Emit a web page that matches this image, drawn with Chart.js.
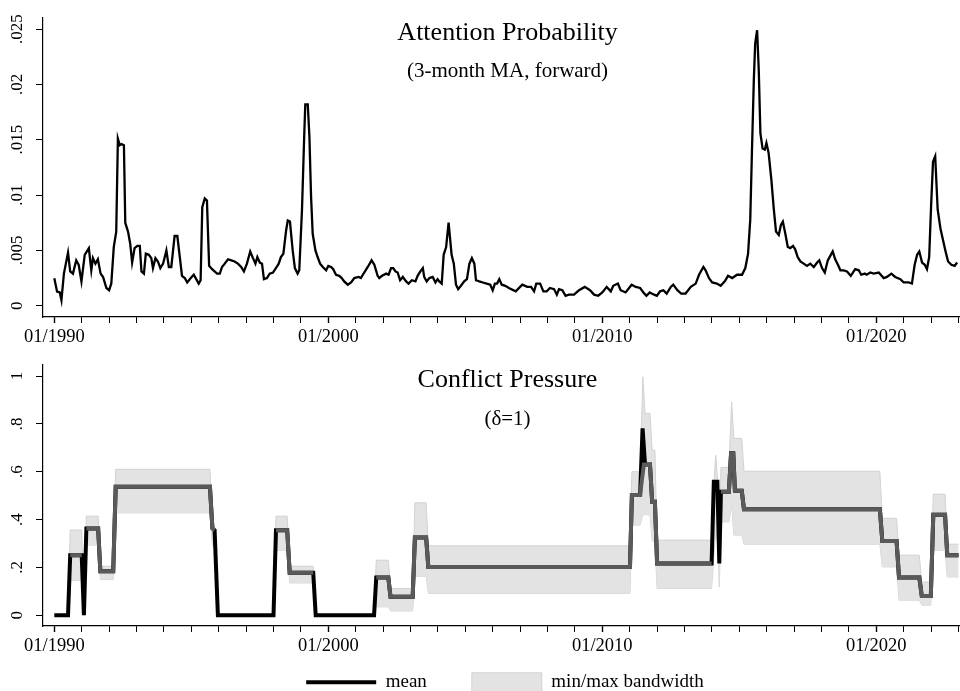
<!DOCTYPE html>
<html>
<head>
<meta charset="utf-8">
<script src="https://cdn.jsdelivr.net/npm/chart.js@4.4.1/dist/chart.umd.min.js"></script>
<style>
  html, body { margin: 0; padding: 0; background: #fff; }
  body { width: 960px; height: 691px; overflow: hidden; position: relative; }
  canvas { position: absolute; left: 0; }
  #attChart { top: 0; }
  #cpChart { top: 340px; }
</style>
</head>
<body>
<canvas id="attChart" width="1015" height="350"></canvas>
<canvas id="cpChart" width="1015" height="390"></canvas>
<script>
// Attention probability, 3-month MA (decimal year, value)
const attYear = [
  1990.00, 1990.10, 1990.20, 1990.26, 1990.35, 1990.50, 1990.58, 1990.68, 1990.80, 1990.89, 1990.99,
  1991.11, 1991.26, 1991.35, 1991.41, 1991.50, 1991.59, 1991.69, 1991.78, 1991.90, 1992.00, 1992.08,
  1992.17, 1992.26, 1992.32, 1992.39, 1992.45, 1992.54, 1992.59, 1992.69, 1992.77, 1992.84, 1992.93,
  1993.03, 1993.12, 1993.18, 1993.27, 1993.34, 1993.45, 1993.54, 1993.60, 1993.69, 1993.78, 1993.87,
  1993.97, 1994.09, 1994.18, 1994.27, 1994.39, 1994.49, 1994.58, 1994.66, 1994.76, 1994.85, 1994.98,
  1995.09, 1995.18, 1995.27, 1995.34, 1995.40, 1995.49, 1995.57, 1995.65, 1995.76, 1995.85, 1995.94,
  1996.04, 1996.12, 1996.22, 1996.34, 1996.46, 1996.58, 1996.70, 1996.82, 1996.92, 1997.03, 1997.15,
  1997.25, 1997.34, 1997.41, 1997.50, 1997.58, 1997.65, 1997.76, 1997.86, 1997.98, 1998.14, 1998.19,
  1998.27, 1998.36, 1998.46, 1998.52, 1998.60, 1998.70, 1998.78, 1998.88, 1998.94, 1999.04, 1999.12,
  1999.16, 1999.25, 1999.31, 1999.37, 1999.43, 1999.53, 1999.61, 1999.70, 1999.80, 1999.92, 2000.00,
  2000.10, 2000.18, 2000.28, 2000.40, 2000.49, 2000.58, 2000.71, 2000.83, 2000.95, 2001.11, 2001.19,
  2001.31, 2001.44, 2001.58, 2001.68, 2001.80, 2001.86, 2001.96, 2002.11, 2002.20, 2002.29, 2002.37,
  2002.45, 2002.53, 2002.62, 2002.72, 2002.84, 2002.93, 2003.05, 2003.18, 2003.26, 2003.36, 2003.45,
  2003.50, 2003.59, 2003.69, 2003.81, 2003.91, 2003.99, 2004.05, 2004.14, 2004.21, 2004.30, 2004.39,
  2004.50, 2004.58, 2004.66, 2004.74, 2004.84, 2004.96, 2005.06, 2005.15, 2005.24, 2005.33, 2005.39,
  2005.51, 2005.64, 2005.78, 2005.91, 2006.00, 2006.08, 2006.16, 2006.24, 2006.33, 2006.46, 2006.59,
  2006.84, 2007.08, 2007.26, 2007.40, 2007.51, 2007.59, 2007.73, 2007.85, 2007.97, 2008.09, 2008.24,
  2008.34, 2008.42, 2008.54, 2008.66, 2008.78, 2008.97, 2009.15, 2009.36, 2009.55, 2009.70, 2009.85,
  2010.00, 2010.16, 2010.31, 2010.40, 2010.57, 2010.67, 2010.85, 2011.07, 2011.22, 2011.38, 2011.50,
  2011.61, 2011.73, 2011.80, 2011.89, 2011.99, 2012.11, 2012.23, 2012.35, 2012.50, 2012.59, 2012.74,
  2012.88, 2013.04, 2013.23, 2013.41, 2013.53, 2013.69, 2013.77, 2013.89, 2014.01, 2014.18, 2014.32,
  2014.47, 2014.59, 2014.74, 2014.92, 2015.10, 2015.22, 2015.32, 2015.40, 2015.46, 2015.53, 2015.58,
  2015.65, 2015.71, 2015.77, 2015.85, 2015.93, 2015.99, 2016.07, 2016.17, 2016.26, 2016.34, 2016.44,
  2016.52, 2016.59, 2016.68, 2016.77, 2016.86, 2016.96, 2017.04, 2017.13, 2017.23, 2017.35, 2017.47,
  2017.59, 2017.72, 2017.84, 2017.92, 2018.02, 2018.12, 2018.23, 2018.32, 2018.41, 2018.50, 2018.60,
  2018.69, 2018.81, 2018.93, 2019.07, 2019.23, 2019.36, 2019.45, 2019.58, 2019.65, 2019.78, 2019.90,
  2020.09, 2020.27, 2020.39, 2020.55, 2020.69, 2020.88, 2021.00, 2021.18, 2021.30, 2021.40, 2021.49,
  2021.57, 2021.67, 2021.77, 2021.85, 2021.93, 2022.00, 2022.07, 2022.15, 2022.24, 2022.34, 2022.42,
  2022.52, 2022.62, 2022.74, 2022.86, 2022.95
];
const attProb = [
  .00248, .00127, .0012, .0005, .0029, .0048, .0031, .0029, .0041, .0037, .0022,
  .0046, .0052, .0032, .0043, .0038, .0042, .0029, .0026, .0016, .0014, .0020,
  .0053, .0067, .0151, .0145, .0146, .0145, .0075, .0067, .0056, .0039, .0052,
  .0054, .0054, .0031, .0029, .0047, .0046, .0043, .0034, .0043, .0040, .0034,
  .0038, .0050, .0035, .0035, .0063, .0063, .0044, .0027, .0025, .0021, .0025,
  .0028, .0024, .0020, .0023, .0089, .0097, .0095, .0036, .0033, .0031, .0029,
  .0029, .0035, .0038, .0042, .0041, .0040, .0038, .0035, .0031, .0038, .0049,
  .0043, .0038, .0044, .0039, .0038, .0024, .0025, .0029, .0030, .0036, .0038,
  .0044, .0047, .0068, .0077, .0076, .0050, .0034, .0029, .0032, .0087, .0153,
  .0182, .0182, .0153, .0099, .0065, .0050, .0044, .0038, .0035, .0032, .0036,
  .0035, .0033, .0028, .0027, .0025, .0022, .0019, .0021, .0025, .0026, .0025,
  .0030, .0035, .0041, .0037, .0027, .0025, .0027, .0029, .0028, .0034, .0034,
  .0031, .0030, .0023, .0026, .0022, .0020, .0023, .0022, .0027, .0031, .0034,
  .0026, .0022, .0025, .0026, .0021, .0024, .0022, .0020, .0046, .0053, .0075,
  .0046, .0038, .0019, .0015, .0018, .0022, .0024, .0038, .0043, .0038, .0023,
  .0022, .0021, .0020, .0019, .0014, .0020, .0020, .0024, .0019, .0018, .0016,
  .0013, .0019, .0017, .0017, .0013, .0020, .0020, .0013, .0013, .0016, .0015,
  .0010, .0015, .0014, .0009, .0010, .0010, .0014, .0017, .0014, .0010, .0009,
  .0012, .0017, .0013, .0018, .0020, .0014, .0012, .0019, .0017, .0016, .0012,
  .0009, .0012, .0011, .0010, .0009, .0013, .0014, .0011, .0017, .0019, .0014,
  .0011, .0011, .0017, .0020, .0028, .0035, .0032, .0025, .0021, .0020, .0018,
  .0022, .0027, .0025, .0028, .0028, .0034, .0047, .0078, .0138, .0204, .0237,
  .0249, .0213, .0156, .0142, .0141, .0147, .0138, .0114, .0087, .0067, .0064,
  .0073, .0076, .0065, .0053, .0052, .0054, .0051, .0044, .0040, .0038, .0036,
  .0038, .0035, .0039, .0041, .0034, .0030, .0041, .0045, .0049, .0042, .0037,
  .0032, .0032, .0031, .0027, .0033, .0032, .0028, .0029, .0028, .0030, .0029,
  .0030, .0025, .0026, .0029, .0026, .0024, .0021, .0021, .0020, .0037, .0046,
  .0049, .0039, .0037, .0033, .0044, .0090, .0130, .0135, .0087, .0070, .0061,
  .0050, .0040, .0037, .0036, .0039
];

// Conflict pressure: mean (black)
const cpYear = [
  1990.00, 1990.50, 1990.58, 1991.00, 1991.08, 1991.17, 1991.60, 1991.68, 1992.15, 1992.24,
  1995.68, 1995.77, 1995.85, 1995.97, 1998.00, 1998.09, 1998.50, 1998.59, 1999.45, 1999.54,
  2001.67, 2001.75, 2002.19, 2002.27, 2003.08, 2003.16, 2003.57, 2003.65, 2011.01, 2011.08,
  2011.38, 2011.47, 2011.56, 2011.74, 2011.82, 2011.92, 2012.00, 2013.99, 2014.07, 2014.20,
  2014.27, 2014.33, 2014.62, 2014.70, 2014.78, 2014.84, 2015.09, 2015.17, 2020.13, 2020.22,
  2020.74, 2020.83, 2021.57, 2021.66, 2021.99, 2022.08, 2022.51, 2022.59, 2023.00
];
const cpMean = [
  0, 0, .251, .251, 0, .363, .363, .184, .184, .537,
  .537, .363, .355, 0, 0, .355, .355, .178, .178, 0,
  0, .158, .158, .077, .077, .325, .325, .202, .202, .503,
  .503, .781, .63, .63, .474, .474, .216, .216, .558, .558,
  .216, .516, .516, .677, .677, .52, .52, .443, .443, .31,
  .31, .158, .158, .08, .08, .42, .42, .251, .251
];

// Conflict pressure: grey overlay line (absent where the level is zero)
const cpLineYear = [
  1990.50, 1990.58, 1991.00, 1991.08, 1991.17, 1991.60, 1991.68, 1992.15, 1992.24, 1995.68,
  1995.77, 1995.85, 1995.97, 1998.09, 1998.50, 1998.59, 1999.45, 1999.54, 2001.75, 2002.19,
  2002.27, 2003.08, 2003.16, 2003.57, 2003.65, 2011.01, 2011.08, 2011.38, 2011.45, 2011.52,
  2011.74, 2011.82, 2011.92, 2012.00, 2013.99, 2014.07, 2014.33, 2014.62, 2014.70, 2014.78,
  2014.84, 2015.09, 2015.17, 2020.13, 2020.22, 2020.74, 2020.83, 2021.57, 2021.66, 2021.99,
  2022.08, 2022.51, 2022.59, 2023.00
];
const cpLine = [
  null, .251, .251, null, .363, .363, .184, .184, .537, .537,
  .363, .355, null, .355, .355, .178, .178, null, .158, .158,
  .077, .077, .325, .325, .202, .202, .503, .503, .57, .63,
  .63, .474, .474, .216, .216, null, .516, .516, .677, .677,
  .52, .52, .443, .443, .31, .31, .158, .158, .08, .08,
  .42, .42, .251, .251
];

// Conflict pressure: min/max band
const bandYear = [
  1990.00, 1990.50, 1990.58, 1991.00, 1991.08, 1991.17, 1991.60, 1991.68, 1992.15, 1992.24,
  1995.68, 1995.77, 1995.85, 1995.97, 1998.00, 1998.09, 1998.50, 1998.59, 1999.45, 1999.54,
  2001.67, 2001.75, 2002.19, 2002.27, 2003.08, 2003.16, 2003.57, 2003.65, 2011.01, 2011.08,
  2011.38, 2011.48, 2011.56, 2011.74, 2011.82, 2011.92, 2012.00, 2013.99, 2014.07, 2014.14,
  2014.22, 2014.27, 2014.33, 2014.62, 2014.72, 2014.80, 2015.09, 2015.17, 2020.13, 2020.22,
  2020.74, 2020.83, 2021.57, 2021.66, 2021.99, 2022.08, 2022.51, 2022.59, 2023.00
];
const bandMin = [
  0, 0, .146, .146, 0, .293, .293, .149, .149, .428,
  .428, .29, .29, 0, 0, .272, .272, .135, .135, 0,
  0, .035, .035, .018, .018, .163, .163, .091, .091, .377,
  .377, .42, .42, .42, .31, .31, .112, .112, .25, .35,
  .30, .118, .39, .39, .464, .335, .335, .297, .297, .202,
  .202, .063, .063, .042, .042, .272, .272, .16, .16
];
const bandMax = [
  0, 0, .356, .356, 0, .414, .414, .205, .205, .61,
  .61, .37, .37, 0, 0, .414, .414, .205, .205, 0,
  0, .23, .23, .112, .112, .47, .47, .29, .29, .60,
  .60, .997, .844, .844, .69, .69, .314, .314, .55, .669,
  .55, .25, .618, .618, .892, .739, .739, .602, .602, .405,
  .405, .251, .251, .139, .139, .506, .506, .297, .297
];

// axis ticks
const xLabelYears = [1990, 2000, 2010, 2020];
const attTicks = [0, .005, .01, .015, .02, .025];
const cpTicks = [0, .2, .4, .6, .8, 1];

const X_MIN = 1989.587;
const X_MAX = 2023.493;
const SERIF = "'Liberation Serif', 'Times New Roman', serif";

Chart.defaults.font.family = SERIF;
Chart.defaults.color = "#000";

const yearTicks = [];
for (let y = 1990; y <= 2023; y++) yearTicks.push(y);

const pts = (xs, ys) => xs.map((x, i) => ({ x, y: ys[i] }));

const stripZero = (v) => (v === 0 ? "0" : String(v).replace(/^0/, ""));

const panelTitles = {
  id: "panelTitles",
  afterDraw(chart, args, opts) {
    const { ctx, chartArea } = chart;
    const cx = (chartArea.left + chartArea.right) / 2;
    ctx.save();
    ctx.fillStyle = "#000";
    ctx.textAlign = "center";
    ctx.textBaseline = "alphabetic";
    ctx.font = `26px ${SERIF}`;
    ctx.fillText(opts.title, cx, chartArea.top + opts.titleOffset);
    ctx.font = `21px ${SERIF}`;
    ctx.fillText(opts.subtitle, cx, chartArea.top + opts.subOffset);
    ctx.restore();
  },
};

// pulls the bottom legend up closer to the axis labels
const legendShift = {
  id: "legendShift",
  afterLayout(chart, args, opts) {
    const lg = chart.legend;
    if (!lg || !opts.dy) return;
    lg.top += opts.dy;
    lg.bottom += opts.dy;
  },
};

function xAxis(height) {
  return {
    type: "linear",
    min: X_MIN,
    max: X_MAX,
    afterBuildTicks: (scale) => {
      scale.ticks = yearTicks.map((value) => ({ value }));
    },
    afterFit: (scale) => {
      scale.height = height;
    },
    ticks: {
      autoSkip: false,
      maxRotation: 0,
      padding: 3,
      font: { size: 18.5 },
      color: "#000",
      callback: (v) => (xLabelYears.includes(v) ? `01/${v}` : ""),
    },
    grid: {
      drawOnChartArea: false,
      tickLength: 6,
      color: "#000",
      tickWidth: (ctx) => (ctx.tick && xLabelYears.includes(ctx.tick.value) ? 1.4 : 1),
    },
    border: { display: true, color: "#000", width: 1.2 },
  };
}

function yAxis(min, max, tickVals, width, pad) {
  return {
    type: "linear",
    min,
    max,
    afterBuildTicks: (scale) => {
      scale.ticks = tickVals.map((value) => ({ value }));
    },
    afterFit: (scale) => {
      scale.width = width;
    },
    ticks: {
      autoSkip: false,
      minRotation: 90,
      maxRotation: 90,
      crossAlign: "center",
      padding: pad,
      font: { size: 17 },
      color: "#000",
      callback: (v) => stripZero(v),
    },
    grid: { drawOnChartArea: false, tickLength: 7, color: "#000" },
    border: { display: true, color: "#000", width: 1.2 },
  };
}

new Chart(document.getElementById("attChart"), {
  type: "line",
  data: {
    datasets: [
      {
        label: "attention",
        data: pts(attYear, attProb),
        borderColor: "#000",
        borderWidth: 2.3,
        pointRadius: 0,
        tension: 0,
        fill: false,
      },
    ],
  },
  options: {
    responsive: false,
    animation: false,
    devicePixelRatio: 1,
    layout: { padding: { top: 18, left: 0, right: 43, bottom: 0 } },
    scales: {
      x: xAxis(33),
      y: yAxis(-0.00102, 0.026, attTicks, 43, 3.1),
    },
    plugins: {
      legend: { display: false },
      tooltip: { enabled: false },
      panelTitles: {
        title: "Attention Probability",
        subtitle: "(3-month MA, forward)",
        titleOffset: 22,
        subOffset: 59,
      },
    },
  },
  plugins: [panelTitles],
});

new Chart(document.getElementById("cpChart"), {
  type: "line",
  data: {
    datasets: [
      {
        label: "",
        data: pts(cpLineYear, cpLine),
        borderColor: "#5a5a5a",
        borderWidth: 4,
        pointRadius: 0,
        tension: 0,
        spanGaps: false,
        fill: false,
      },
      {
        label: "mean",
        data: pts(cpYear, cpMean),
        borderColor: "#000",
        backgroundColor: "#000",
        borderWidth: 4,
        pointRadius: 0,
        pointStyle: "line",
        tension: 0,
        fill: false,
      },
      {
        label: "min/max bandwidth",
        data: pts(bandYear, bandMax),
        borderColor: "#d2d2d2",
        backgroundColor: "#e3e3e3",
        borderWidth: 1,
        pointRadius: 0,
        pointStyle: "rect",
        tension: 0,
        fill: "+1",
      },
      {
        label: "",
        data: pts(bandYear, bandMin),
        borderColor: "#d2d2d2",
        backgroundColor: "#e3e3e3",
        borderWidth: 1,
        pointRadius: 0,
        tension: 0,
        fill: false,
      },
    ],
  },
  options: {
    responsive: false,
    animation: false,
    devicePixelRatio: 1,
    layout: { padding: { top: 25, left: 0, right: 5, bottom: 0 } },
    scales: {
      x: xAxis(30),
      y: yAxis(-0.045, 1.046, cpTicks, 43, 11.6),
      // empty spacer on the right so the legend centres under the plot
      yRight: {
        type: "linear",
        position: "right",
        display: true,
        grid: { display: false },
        border: { display: false },
        ticks: { display: false },
        afterFit: (scale) => {
          scale.width = 38;
        },
      },
    },
    plugins: {
      tooltip: { enabled: false },
      legendShift: { dy: -28.2 },
      legend: {
        display: true,
        position: "bottom",
        labels: {
          usePointStyle: true,
          pointStyleWidth: 70,
          boxHeight: 20,
          padding: 45,
          color: "#000",
          font: { size: 19 },
          filter: (item) => item.text !== "",
        },
      },
      panelTitles: {
        title: "Conflict Pressure",
        subtitle: "(\u03b4=1)",
        titleOffset: 22,
        subOffset: 60,
      },
    },
  },
  plugins: [panelTitles, legendShift],
});
</script>
</body>
</html>
